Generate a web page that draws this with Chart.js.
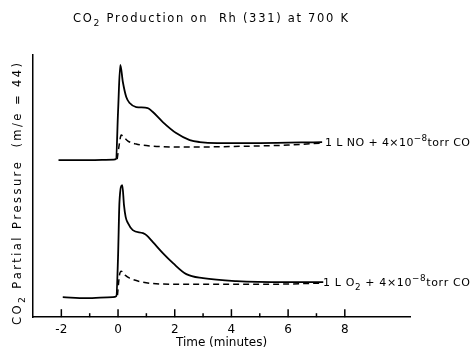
<!DOCTYPE html>
<html>
<head>
<meta charset="utf-8">
<script src="https://cdn.jsdelivr.net/npm/chart.js@4/dist/chart.umd.min.js"></script>
<style>
  html, body { margin: 0; padding: 0; background: #fff; }
  #wrap { width: 475px; height: 350px; }
</style>
</head>
<body>
<div id="wrap"><canvas id="myChart"></canvas></div>
<script>
// time (minutes) and CO2 signal (arbitrary units)
const noSolidT = [-2.1, -1.0, -0.15, -0.07, 0.0, 0.08, 0.17, 0.29, 0.41, 0.64, 1.05, 1.23, 1.58, 2.05, 2.53, 2.88, 3.5, 5.0, 7.2];
const noSolidV = [157, 157, 157.5, 158, 205, 252, 235, 220, 214, 210, 209, 205, 195, 184, 177, 175, 174, 174, 175];

const noDashT = [-0.03, 0.04, 0.11, 0.2, 0.35, 0.64, 1.2, 2.4, 4.75, 6.0, 7.2];
const noDashV = [158, 172, 182, 180, 176, 173, 171, 170, 171, 172, 174];

const o2SolidT = [-1.95, -1.12, -0.18, -0.06, 0.0, 0.05, 0.15, 0.21, 0.27, 0.35, 0.52, 0.88, 1.0, 1.23, 1.58, 1.94, 2.41, 3.0, 4.18, 5.94, 7.24];
const o2SolidV = [20, 19, 20, 21, 60, 115, 132, 112, 100, 94, 87, 84, 82, 75, 64, 54, 43, 39, 36, 35, 35];

const o2DashT = [-0.02, 0.05, 0.11, 0.25, 0.41, 0.88, 1.82, 3.59, 5.5, 7.12];
const o2DashV = [22, 42, 46, 42, 39, 35, 33, 33, 33, 34];

const majorTicks = [-2, 0, 2, 4, 6, 8];
const minorTicks = [-1, 1, 3, 5, 7];

const FONT = '"DejaVu Sans", Arial, sans-serif';

function pts(t, v) {
  return t.map((x, i) => ({ x: x, y: v[i] }));
}

// draws text char by char so it can be stretched to a width, with sub/superscripts
function drawRich(ctx, segs, x, y, size, width) {
  const fontFor = k => (k ? size * 0.8 : size) + 'px ' + FONT;
  const chars = [];
  segs.forEach(([t, k]) => { for (const c of t) chars.push([c, k]); });
  let natural = 0;
  chars.forEach(([c, k]) => { ctx.font = fontFor(k); natural += ctx.measureText(c).width; });
  const gap = width ? (width - natural) / (chars.length - 1) : 0;
  let cx = x;
  chars.forEach(([c, k]) => {
    ctx.font = fontFor(k);
    const dy = k === 'sub' ? size * 0.35 : k === 'sup' ? -size * 0.5 : 0;
    ctx.fillText(c, cx, y + dy);
    cx += ctx.measureText(c).width + gap;
  });
}

const extras = {
  id: 'extras',
  afterDraw(chart) {
    const ctx = chart.ctx;
    const xs = chart.scales.x;
    const bottom = chart.chartArea.bottom;
    ctx.save();
    ctx.strokeStyle = '#000';
    ctx.lineWidth = 1.5;
    // ticks point up into the plot
    majorTicks.concat(minorTicks).forEach(v => {
      const px = xs.getPixelForValue(v);
      const len = majorTicks.includes(v) ? 8 : 4;
      ctx.beginPath();
      ctx.moveTo(px, bottom);
      ctx.lineTo(px, bottom - len);
      ctx.stroke();
    });

    ctx.fillStyle = '#000';
    ctx.textBaseline = 'alphabetic';
    drawRich(ctx, [['CO', ''], ['2', 'sub'], [' Production on  Rh (331) at 700 K', '']], 73, 22, 11.5, 275);

    drawRich(ctx, [['1 L NO + 4\u00d710', ''], ['\u22128', 'sup'], ['torr CO', '']], 325, 146, 11, 145);
    drawRich(ctx, [['1 L O', ''], ['2', 'sub'], [' + 4\u00d710', ''], ['\u22128', 'sup'], ['torr CO', '']], 323, 286, 11, 147);

    ctx.translate(20.5, 325);
    ctx.rotate(-Math.PI / 2);
    drawRich(ctx, [['CO', ''], ['2', 'sub'], [' Partial Pressure  (m/e = 44)', '']], 0, 0, 11.5, 262);
    ctx.restore();
  }
};

const ctx = document.getElementById('myChart');

new Chart(ctx, {
  type: 'line',
  data: {
    datasets: [
      { data: pts(noSolidT, noSolidV), borderWidth: 1.8 },
      { data: pts(noDashT, noDashV), borderWidth: 1.5, borderDash: [6, 4] },
      { data: pts(o2SolidT, o2SolidV), borderWidth: 1.8 },
      { data: pts(o2DashT, o2DashV), borderWidth: 1.5, borderDash: [6, 4] }
    ]
  },
  options: {
    responsive: true,
    maintainAspectRatio: false,
    animation: false,
    layout: { padding: { left: 33, right: 65, top: 55, bottom: 0 } },
    elements: {
      line: { borderColor: '#000', cubicInterpolationMode: 'monotone', fill: false },
      point: { radius: 0 }
    },
    plugins: {
      legend: { display: false },
      tooltip: { enabled: false }
    },
    scales: {
      x: {
        type: 'linear',
        min: -3,
        max: 10.3,
        afterBuildTicks: s => { s.ticks = majorTicks.map(v => ({ value: v })); },
        grid: { display: false, drawTicks: false },
        border: { display: true, color: '#000', width: 1.5 },
        ticks: { color: '#000', padding: 5, font: { family: FONT, size: 12 } },
        title: {
          display: true,
          text: 'Time (minutes)',
          color: '#000',
          padding: { top: -6, bottom: 0 },
          font: { family: FONT, size: 12 }
        }
      },
      y: {
        min: 0,
        max: 262,
        grid: { display: false, drawTicks: false },
        border: { display: true, color: '#000', width: 1.5 },
        ticks: { display: false }
      }
    }
  },
  plugins: [extras]
});
</script>
</body>
</html>
